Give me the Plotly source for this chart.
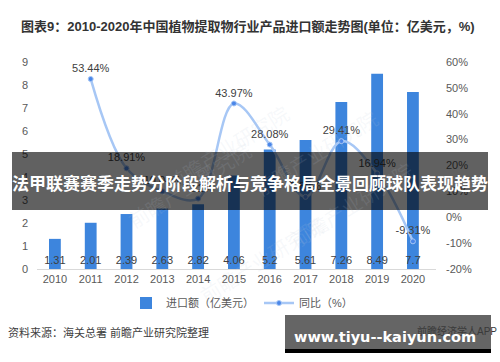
import plotly.graph_objects as go

years = ["2010", "2011", "2012", "2013", "2014", "2015", "2016", "2017", "2018", "2019", "2020"]
import_value = [1.31, 2.01, 2.39, 2.63, 2.82, 4.06, 5.2, 5.61, 7.26, 8.49, 7.7]
yoy_years = ["2011", "2012", "2013", "2014", "2015", "2016", "2017", "2018", "2019", "2020"]
yoy_pct = [53.44, 18.91, 10.04, 7.22, 43.97, 28.08, 7.88, 29.41, 16.94, -9.31]
left_ticks = [0, 1, 2, 3, 4, 5, 6, 7, 8, 9]
right_ticks = [-20, -10, 0, 10, 20, 30, 40, 50, 60]
right_tick_text = ["-20%", "-10%", "0%", "10%", "20%", "30%", "40%", "50%", "60%"]

W, H = 500, 362
L, R, T, B = 37, 436, 62, 269
FONT = "Liberation Sans, Arial, Noto Sans CJK SC, sans-serif"

def px(x):
    return (x - L) / (R - L)

def py(y):
    return (B - y) / (B - T)

fig = go.Figure()
fig.add_trace(go.Bar(
    x=years, y=import_value, name="进口额（亿美元）",
    marker=dict(color="#3d85dd", line=dict(width=0)),
    text=[str(v) for v in import_value], textposition="inside",
    insidetextanchor="start", constraintext="none", textangle=0,
    textfont=dict(color="#404040", size=11, family=FONT),
    yaxis="y", showlegend=True,
))
fig.add_trace(go.Scatter(
    x=yoy_years, y=yoy_pct, name="同比（%）", yaxis="y2",
    mode="lines+markers+text",
    line=dict(color="#a7c7f5", width=2.5, shape="spline", smoothing=1.0),
    marker=dict(color="#4a86e8", size=5, line=dict(color="#a7c7f5", width=1)),
    text=[f"{v:.2f}%" for v in yoy_pct], textposition="top center",
    textfont=dict(color="#404040", size=11, family=FONT),
))

fig.update_layout(
    width=W, height=H,
    margin=dict(l=L, r=W - R, t=T, b=H - B, autoexpand=False),
    paper_bgcolor="white", plot_bgcolor="white",
    font=dict(family=FONT, color="#595959", size=11),
    bargap=0.67,
    xaxis=dict(type="category", showgrid=False, showline=True, linecolor="#d9d9d9",
               linewidth=1, ticks="", automargin=False, tickfont=dict(size=11, color="#595959")),
    yaxis=dict(range=[0, 9], tickvals=left_ticks, showgrid=False, zeroline=False,
               showline=False, ticks="", automargin=False, ticklabelstandoff=8,
               tickfont=dict(size=11, color="#595959")),
    yaxis2=dict(range=[-20, 60], tickvals=right_ticks, ticktext=right_tick_text, overlaying="y",
                side="right", showgrid=False, zeroline=False, showline=False, ticks="",
                automargin=False, ticklabelstandoff=9, tickfont=dict(size=11, color="#595959")),
    legend=dict(orientation="h", x=px(242), xanchor="center", y=py(303), yanchor="middle",
                font=dict(size=11, color="#595959"), bgcolor="rgba(0,0,0,0)",
                itemwidth=30, traceorder="normal"),
    showlegend=True,
)

# title
fig.add_annotation(text="<b>图表9：2010-2020年中国植物提取物行业产品进口额走势图(单位：亿美元，%)</b>",
                   xref="paper", yref="paper", x=px(248), y=py(27), xanchor="center", yanchor="middle",
                   showarrow=False, font=dict(size=13, color="#333333", family=FONT))
# source
fig.add_annotation(text="资料来源：海关总署 前瞻产业研究院整理",
                   xref="paper", yref="paper", x=px(6), y=py(332), xanchor="left", yanchor="middle",
                   showarrow=False, font=dict(size=11, color="#404040", family=FONT))

# faint watermarks
for (cx, cy) in [(160, 100), (385, 105), (190, 235), (420, 255), (330, 310)]:
    fig.add_annotation(text="前瞻产业研究院", xref="paper", yref="paper", x=px(cx), y=py(cy),
                       showarrow=False, textangle=-32,
                       font=dict(size=20, color="rgba(190,200,215,0.13)", family=FONT))

# banner overlay
fig.add_shape(type="rect", xref="paper", yref="paper", x0=px(12), x1=px(488), y0=py(210), y1=py(152),
              fillcolor="rgba(0,0,0,0.62)", line=dict(width=0), layer="above")
fig.add_annotation(text="<b>法甲联赛赛季走势分阶段解析与竞争格局全景回顾球队表现趋势</b>",
                   xref="paper", yref="paper", x=px(250), y=py(182), xanchor="center", yanchor="middle",
                   showarrow=False, font=dict(size=17, color="white", family="Noto Sans CJK SC"))

# bottom-right watermark box
fig.add_shape(type="rect", xref="paper", yref="paper", x0=px(285), x1=px(491), y0=py(349), y1=py(315),
              fillcolor="#656565", line=dict(width=0), layer="above")
fig.add_shape(type="rect", xref="paper", yref="paper", x0=px(285), x1=px(491), y0=py(353), y1=py(349),
              fillcolor="#000000", line=dict(width=0), layer="above")
fig.add_annotation(text="前瞻经济学人APP", xref="paper", yref="paper", x=px(499), y=py(331),
                   xanchor="right", yanchor="middle", showarrow=False,
                   font=dict(size=10, color="#3a3a3a", family=FONT))
fig.add_annotation(text="<b>www.tiyu--kaiyun.com</b>", xref="paper", yref="paper", x=px(385), y=py(337),
                   xanchor="center", yanchor="middle", showarrow=False,
                   font=dict(size=14.5, color="white", family="DejaVu Sans, sans-serif"))

fig.write_html("out.html", config={"displayModeBar": False},
               post_script="document.body.style.margin='0';document.body.style.padding='0';")
